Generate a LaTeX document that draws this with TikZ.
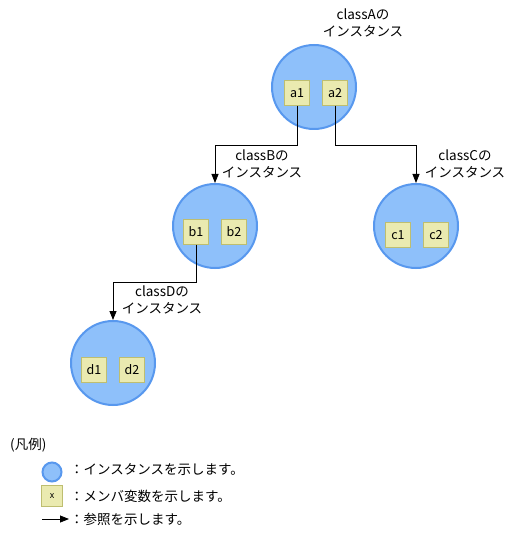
\documentclass[tikz,border=0pt]{standalone}
\usepackage{fontspec}
\setmainfont{Noto Sans CJK JP}
\usetikzlibrary{arrows.meta}
\definecolor{instfill}{RGB}{142,192,250}
\definecolor{instline}{RGB}{88,152,238}
\definecolor{membfill}{RGB}{234,234,176}
\definecolor{membline}{RGB}{190,190,112}
\begin{document}
\begin{tikzpicture}[x=1pt, y=-1pt,
    inst/.style={circle, draw=instline, fill=instfill, line width=2pt,
                 minimum size=84pt, inner sep=0pt},
    memb/.style={draw=membline, fill=membfill, minimum size=25pt,
                 inner sep=0pt, font=\fontsize{12.5}{14}\selectfont},
    lbl/.style={align=center, inner sep=0pt, font=\fontsize{13.5}{17}\selectfont},
    arr/.style={-{Triangle[length=9pt,width=7pt]}, line width=0.8pt}
  ]
  \useasboundingbox (0,0) rectangle (512,537);

  % instances
  \node[inst] (ia) at (314,87) {};
  \node[inst] (ib) at (215,226) {};
  \node[inst] (ic) at (416,226) {};
  \node[inst] (id) at (113,363) {};

  \node[lbl] (la) at (363,23) {classAの\\インスタンス};
  \node[lbl] (lb) at (262,164) {classBの\\インスタンス};
  \node[lbl] (lc) at (465,164) {classCの\\インスタンス};
  \node[lbl] (ld) at (162,300) {classDの\\インスタンス};

  % members
  \node[memb] (a1) at (297,93) {a1};
  \node[memb] (a2) at (335,93) {a2};
  \node[memb] (b1) at (196,232) {b1};
  \node[memb] (b2) at (234,232) {b2};
  \node[memb] (c1) at (398,235) {c1};
  \node[memb] (c2) at (436,235) {c2};
  \node[memb] (d1) at (94,370) {d1};
  \node[memb] (d2) at (132,370) {d2};

  % references
  \coordinate (bendab) at (0,145);
  \coordinate (bendbd) at (0,282);
  \draw[arr] (a1.south) -- (a1.south |- bendab) -| (ib.north);
  \draw[arr] (a2.south) -- (a2.south |- bendab) -| (ic.north);
  \draw[arr] (b1.south) -- (b1.south |- bendbd) -| (id.north);

  % legend
  \node[lbl, anchor=west] (lghead) at (10,445) {(凡例)};
  \node[inst, minimum size=19pt] (lgcirc) at (52,472) {};
  \node[memb, minimum size=21pt, font=\fontsize{9}{10}\selectfont] (lgbox) at (52,496) {x};
  \coordinate (lgarrs) at (42,519);
  \coordinate (lgarre) at (69,519);
  \draw[arr] (lgarrs) -- (lgarre);
  \node[lbl, anchor=west] (lgt1) at (70,470) {：インスタンスを示します。};
  \node[lbl, anchor=west] (lgt2) at (70,496) {：メンバ変数を示します。};
  \node[lbl, anchor=west] (lgt3) at (70,519) {：参照を示します。};
\end{tikzpicture}
\end{document}
